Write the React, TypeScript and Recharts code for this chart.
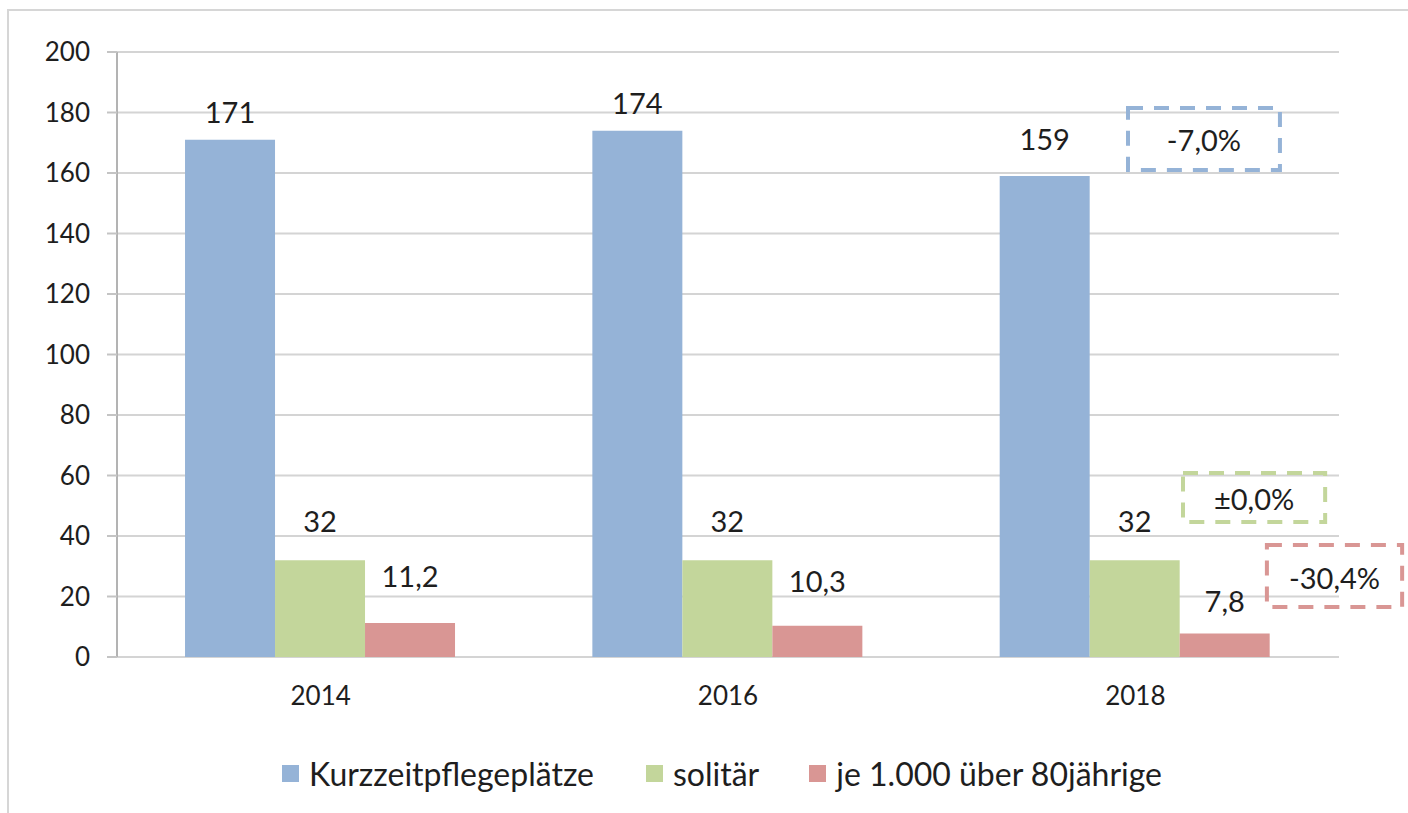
import React from "react";
import {
  BarChart,
  Bar,
  XAxis,
  YAxis,
  CartesianGrid,
  Legend,
  LabelList,
} from "recharts";

// ---- data ----
const years = ["2014", "2016", "2018"];
const kurzzeitpflegeplaetze = [171, 174, 159];
const solitaer = [32, 32, 32];
const je1000Ueber80 = [11.2, 10.3, 7.8];
const yTicks = [0, 20, 40, 60, 80, 100, 120, 140, 160, 180, 200];

const seriesNames = ["Kurzzeitpflegeplätze", "solitär", "je 1.000 über 80jährige"];
const changeLabels = ["-7,0%", "±0,0%", "-30,4%"];

// ---- styles / layout ----
const COLORS = ["#95B3D7", "#C3D69B", "#D99694"];
const FONT = "Lato, 'Open Sans', sans-serif";
const TEXT = "#1e1e1e";
const W = 1408;
const H = 813;
const M = { top: 52, right: 69, left: 0, bottom: 18 };
const Y_AXIS_W = 117;
const X_AXIS_H = 94;
const LEGEND_H = 44;
const Y_MAX = 200;

const plotLeft = M.left + Y_AXIS_W;
const plotRight = W - M.right;
const plotTop = M.top;
const plotBottom = H - M.bottom - LEGEND_H - X_AXIS_H;

// convert axis units to pixels (x: 0..3 across category bands, y: value)
const xPx = (u: number) => plotLeft + (u * (plotRight - plotLeft)) / years.length;
const yPx = (v: number) => plotBottom - (v * (plotBottom - plotTop)) / Y_MAX;

// label distance above the bar top (px), per series / per category
const LABEL_LIFT = [
  [27, 27, 36],
  [39, 39, 39],
  [47, 44, 32],
];

// annotation boxes (band units / value units)
const annotationBoxes = [
  { x1: 2.482, x2: 2.855, y1: 161, y2: 181.5 },
  { x1: 2.617, x2: 2.966, y1: 44.6, y2: 60.8 },
  { x1: 2.823, x2: 3.155, y1: 16.5, y2: 37 },
];

const data = years.map((y, i) => ({
  year: y,
  k: kurzzeitpflegeplaetze[i],
  s: solitaer[i],
  j: je1000Ueber80[i],
}));

const fmt = (v: number) => String(v).replace(".", ",");

const makeLabel = (seriesIdx: number) => (props: any) => {
  const { x, y, width, value, index } = props;
  const lift = LABEL_LIFT[seriesIdx][index] ?? 30;
  const fs = 29;
  const cy = Number(y) - lift;
  return (
    <text
      x={Number(x) + Number(width) / 2}
      y={cy + fs * 0.36}
      textAnchor="middle"
      fontSize={fs}
      fill={TEXT}
      fontFamily={FONT}
    >
      {fmt(value)}
    </text>
  );
};

const LEGEND_GAPS = [52, 50];

const LegendContent = () => (
  <div
    style={{
      display: "flex",
      justifyContent: "center",
      alignItems: "center",
      height: LEGEND_H,
      paddingLeft: 36,
      fontFamily: FONT,
      fontSize: 32,
      color: TEXT,
    }}
  >
    {seriesNames.map((n, i) => (
      <div
        key={n}
        style={{
          display: "flex",
          alignItems: "center",
          marginRight: i < seriesNames.length - 1 ? LEGEND_GAPS[i] : 0,
        }}
      >
        <span
          style={{
            width: 17,
            height: 17,
            background: COLORS[i],
            display: "inline-block",
            marginRight: 10,
          }}
        />
        <span>{n}</span>
      </div>
    ))}
  </div>
);

export default function App() {
  return (
    <div
      style={{
        position: "fixed",
        left: 0,
        top: 0,
        width: W,
        height: H,
        overflow: "hidden",
        background: "#fff",
        fontFamily: FONT,
      }}
    >
      <div
        style={{
          position: "absolute",
          left: 7,
          top: 9,
          width: 1460,
          height: 900,
          border: "2px solid #d6d6d6",
          boxSizing: "border-box",
        }}
      />
      <div style={{ position: "absolute", left: 0, top: 0 }}>
        <BarChart
          width={W}
          height={H}
          data={data}
          margin={M}
          barGap={0}
          barCategoryGap="16.7%"
        >
          <XAxis
            xAxisId="grid"
            type="number"
            domain={[0, 3]}
            ticks={[0, 1, 2, 3]}
            allowDataOverflow
            tick={false}
            tickSize={11}
            height={0}
            axisLine={{ stroke: "#b3b3b3", strokeWidth: 2 }}
            tickLine={{ stroke: "#b3b3b3", strokeWidth: 2 }}
          />
          <XAxis
            dataKey="year"
            height={X_AXIS_H}
            tickLine={false}
            axisLine={false}
            tickSize={0}
            tickMargin={30}
            tick={{ fill: TEXT, fontSize: 26, fontFamily: FONT }}
          />
          <YAxis
            width={Y_AXIS_W}
            domain={[0, Y_MAX]}
            ticks={yTicks}
            interval={0}
            tickSize={10}
            tickMargin={17}
            axisLine={{ stroke: "#b3b3b3", strokeWidth: 2 }}
            tickLine={{ stroke: "#c4c4c4", strokeWidth: 2 }}
            tick={{ fill: TEXT, fontSize: 26, fontFamily: FONT }}
          />
          <CartesianGrid vertical={false} stroke="#d4d4d4" strokeWidth={2} />
          <Legend
            verticalAlign="bottom"
            content={<LegendContent />}
            wrapperStyle={{ top: 751, left: 0, width: W, height: LEGEND_H }}
          />
          <Bar dataKey="k" name={seriesNames[0]} fill={COLORS[0]} isAnimationActive={false}>
            <LabelList dataKey="k" content={makeLabel(0)} />
          </Bar>
          <Bar dataKey="s" name={seriesNames[1]} fill={COLORS[1]} isAnimationActive={false}>
            <LabelList dataKey="s" content={makeLabel(1)} />
          </Bar>
          <Bar dataKey="j" name={seriesNames[2]} fill={COLORS[2]} isAnimationActive={false}>
            <LabelList dataKey="j" content={makeLabel(2)} />
          </Bar>
        </BarChart>
      </div>
      <svg
        width={W}
        height={H}
        style={{ position: "absolute", left: 0, top: 0, pointerEvents: "none" }}
      >
        {annotationBoxes.map((b, i) => {
          const x1 = xPx(b.x1);
          const x2 = xPx(b.x2);
          const yTop = yPx(b.y2);
          const yBot = yPx(b.y1);
          return (
            <g key={i}>
              <rect
                x={x1}
                y={yTop}
                width={x2 - x1}
                height={yBot - yTop}
                fill="none"
                stroke={COLORS[i]}
                strokeWidth={4}
                strokeDasharray="15 11"
              />
              <text
                x={(x1 + x2) / 2}
                y={(yTop + yBot) / 2 + 29 * 0.36 + 2}
                textAnchor="middle"
                fontSize={29}
                fill={TEXT}
                fontFamily={FONT}
              >
                {changeLabels[i]}
              </text>
            </g>
          );
        })}
      </svg>
    </div>
  );
}
